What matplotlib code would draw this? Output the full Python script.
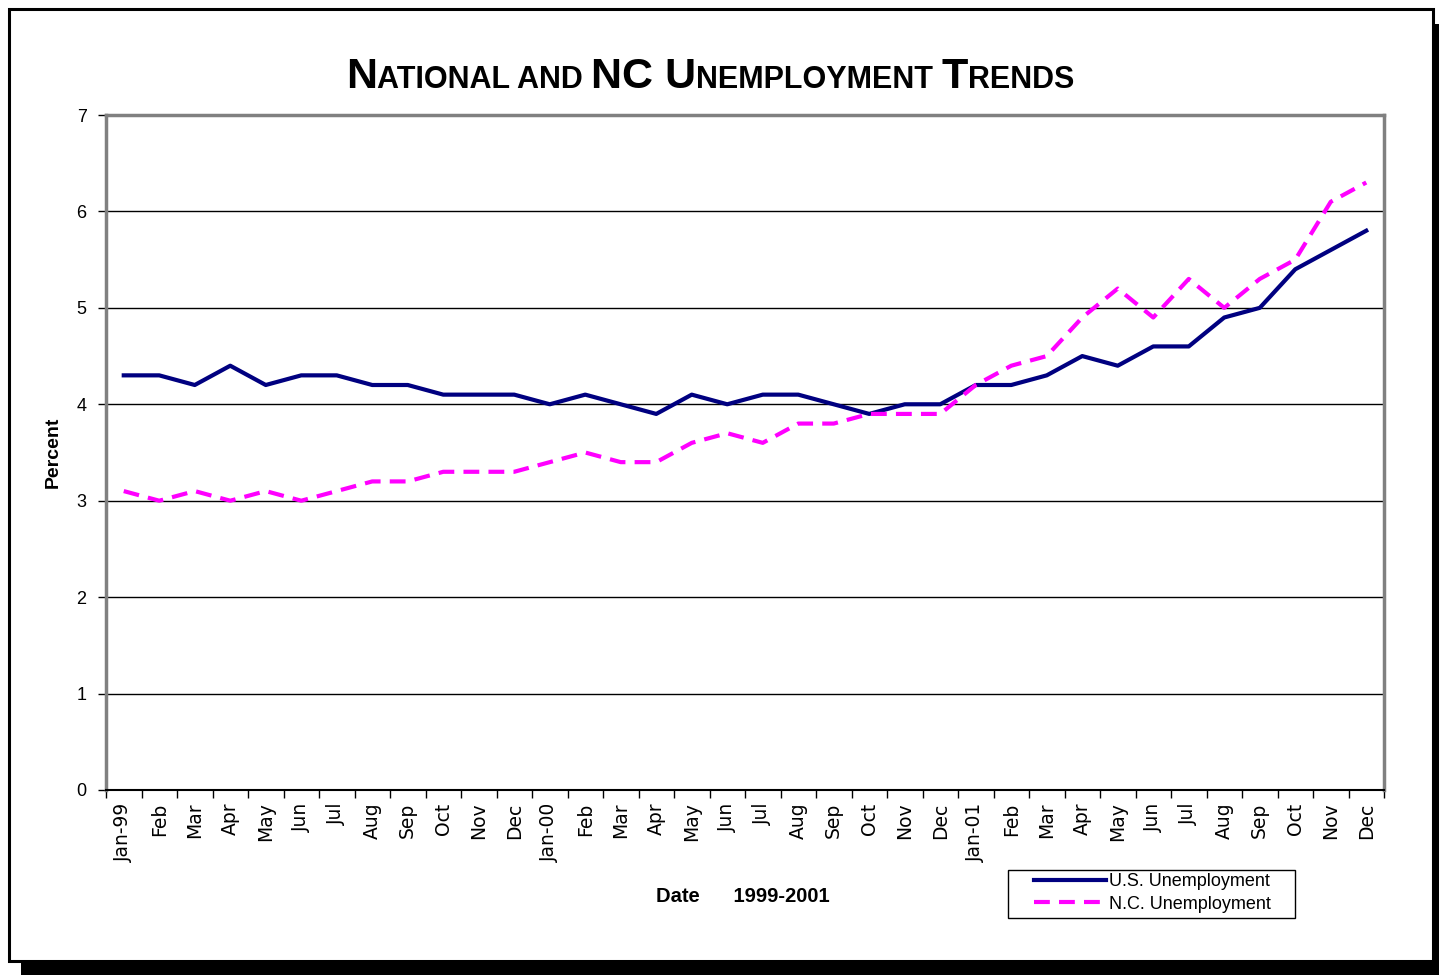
import matplotlib

matplotlib.use("Agg")
import matplotlib.pyplot as plt
from matplotlib.patches import Rectangle

W, H = 1439, 975

months = ["Jan-99", "Feb", "Mar", "Apr", "May", "Jun", "Jul", "Aug", "Sep", "Oct", "Nov", "Dec",
          "Jan-00", "Feb", "Mar", "Apr", "May", "Jun", "Jul", "Aug", "Sep", "Oct", "Nov", "Dec",
          "Jan-01", "Feb", "Mar", "Apr", "May", "Jun", "Jul", "Aug", "Sep", "Oct", "Nov", "Dec"]
us_rate = [4.3, 4.3, 4.2, 4.4, 4.2, 4.3, 4.3, 4.2, 4.2, 4.1, 4.1, 4.1,
           4.0, 4.1, 4.0, 3.9, 4.1, 4.0, 4.1, 4.1, 4.0, 3.9, 4.0, 4.0,
           4.2, 4.2, 4.3, 4.5, 4.4, 4.6, 4.6, 4.9, 5.0, 5.4, 5.6, 5.8]
nc_rate = [3.1, 3.0, 3.1, 3.0, 3.1, 3.0, 3.1, 3.2, 3.2, 3.3, 3.3, 3.3,
           3.4, 3.5, 3.4, 3.4, 3.6, 3.7, 3.6, 3.8, 3.8, 3.9, 3.9, 3.9,
           4.2, 4.4, 4.5, 4.9, 5.2, 4.9, 5.3, 5.0, 5.3, 5.5, 6.1, 6.3]
title_parts = [("N", True), ("ATIONAL AND ", False), ("NC U", True), ("NEMPLOYMENT ", False),
               ("T", True), ("RENDS", False)]


def fx(x):
    return x / W


def fy(y):
    return 1 - y / H


fig = plt.figure(figsize=(W / 100, H / 100), dpi=100)

# outer frame with drop shadow
fig.patches.append(Rectangle((fx(21), fy(975)), fx(1418), 13 / H, transform=fig.transFigure,
                             facecolor="black", edgecolor="none", zorder=-10))
fig.patches.append(Rectangle((fx(1434), fy(975)), fx(5), 951 / H, transform=fig.transFigure,
                             facecolor="black", edgecolor="none", zorder=-10))
fig.patches.append(Rectangle((fx(8.5), fy(961)), fx(1424), 952 / H, transform=fig.transFigure,
                             facecolor="white", edgecolor="black", linewidth=2.2, zorder=-10))

ax = fig.add_axes([fx(106), fy(790), fx(1384 - 106), (790 - 115) / H])
ax.set_zorder(1)
x = list(range(len(months)))
ax.plot(x, us_rate, color="#000080", lw=3.0, label="U.S. Unemployment", zorder=3)
ax.plot(x, nc_rate, color="#FF00FF", lw=3.0, linestyle=(0, (3.8, 2.2)), label="N.C. Unemployment", zorder=3)

ax.set_xlim(-0.5, len(months) - 0.5)
ax.set_ylim(0, 7)
ax.set_yticks(range(8))
ax.set_yticklabels([str(v) for v in range(8)], fontsize=13, family="Liberation Sans")
ax.tick_params(axis="y", direction="out", length=6, width=1, pad=8)
ax.set_xticks([i - 0.5 for i in range(len(months) + 1)])
ax.set_xticklabels([])
ax.set_xticks(x, minor=True)
ax.set_xticklabels(months, minor=True, rotation=90, fontsize=13.5, va="top", family="DejaVu Sans")
ax.tick_params(axis="x", which="major", direction="out", length=6, width=1)
ax.tick_params(axis="x", which="minor", length=0, pad=9)
ax.grid(axis="y", color="black", lw=1)
for s in ax.spines.values():
    s.set_color("#808080")
    s.set_linewidth(2.5)
ax.spines["bottom"].set_color("black")
ax.spines["bottom"].set_linewidth(1.5)

fig.text(fx(53), fy(452), "Percent", rotation=90, ha="center", va="center",
         fontsize=14, fontweight="bold", family="Liberation Sans")
fig.text(fx(743), fy(897), "Date      1999-2001", ha="center", va="center",
         fontsize=14.5, fontweight="bold", family="Liberation Sans")

fig.patches.append(Rectangle((fx(1008), fy(918)), fx(287), 48 / H, transform=fig.transFigure,
                             facecolor="white", edgecolor="black", linewidth=1, zorder=4))
leg = fig.legend(loc="center", bbox_to_anchor=(fx(1152), fy(893)), frameon=False,
                 prop={"family": "Liberation Sans", "size": 13},
                 handlelength=4.0, handletextpad=0.15, borderpad=0, labelspacing=0.3,
                 borderaxespad=0)
leg.set_zorder(5)

# small-caps title built from pieces
renderer = fig.canvas.get_renderer()
texts = []
for s, big in title_parts:
    t = fig.text(0, fy(88), s, fontsize=31 if big else 22, fontweight="bold",
                 family=["Liberation Sans Narrow", "Liberation Sans"], va="baseline", ha="left")
    texts.append(t)
widths = [t.get_window_extent(renderer).width for t in texts]
total = sum(widths)
start = 710 - total / 2
for t, w in zip(texts, widths):
    t.set_x(fx(start))
    start += w

fig.savefig("out.png", dpi=100)
